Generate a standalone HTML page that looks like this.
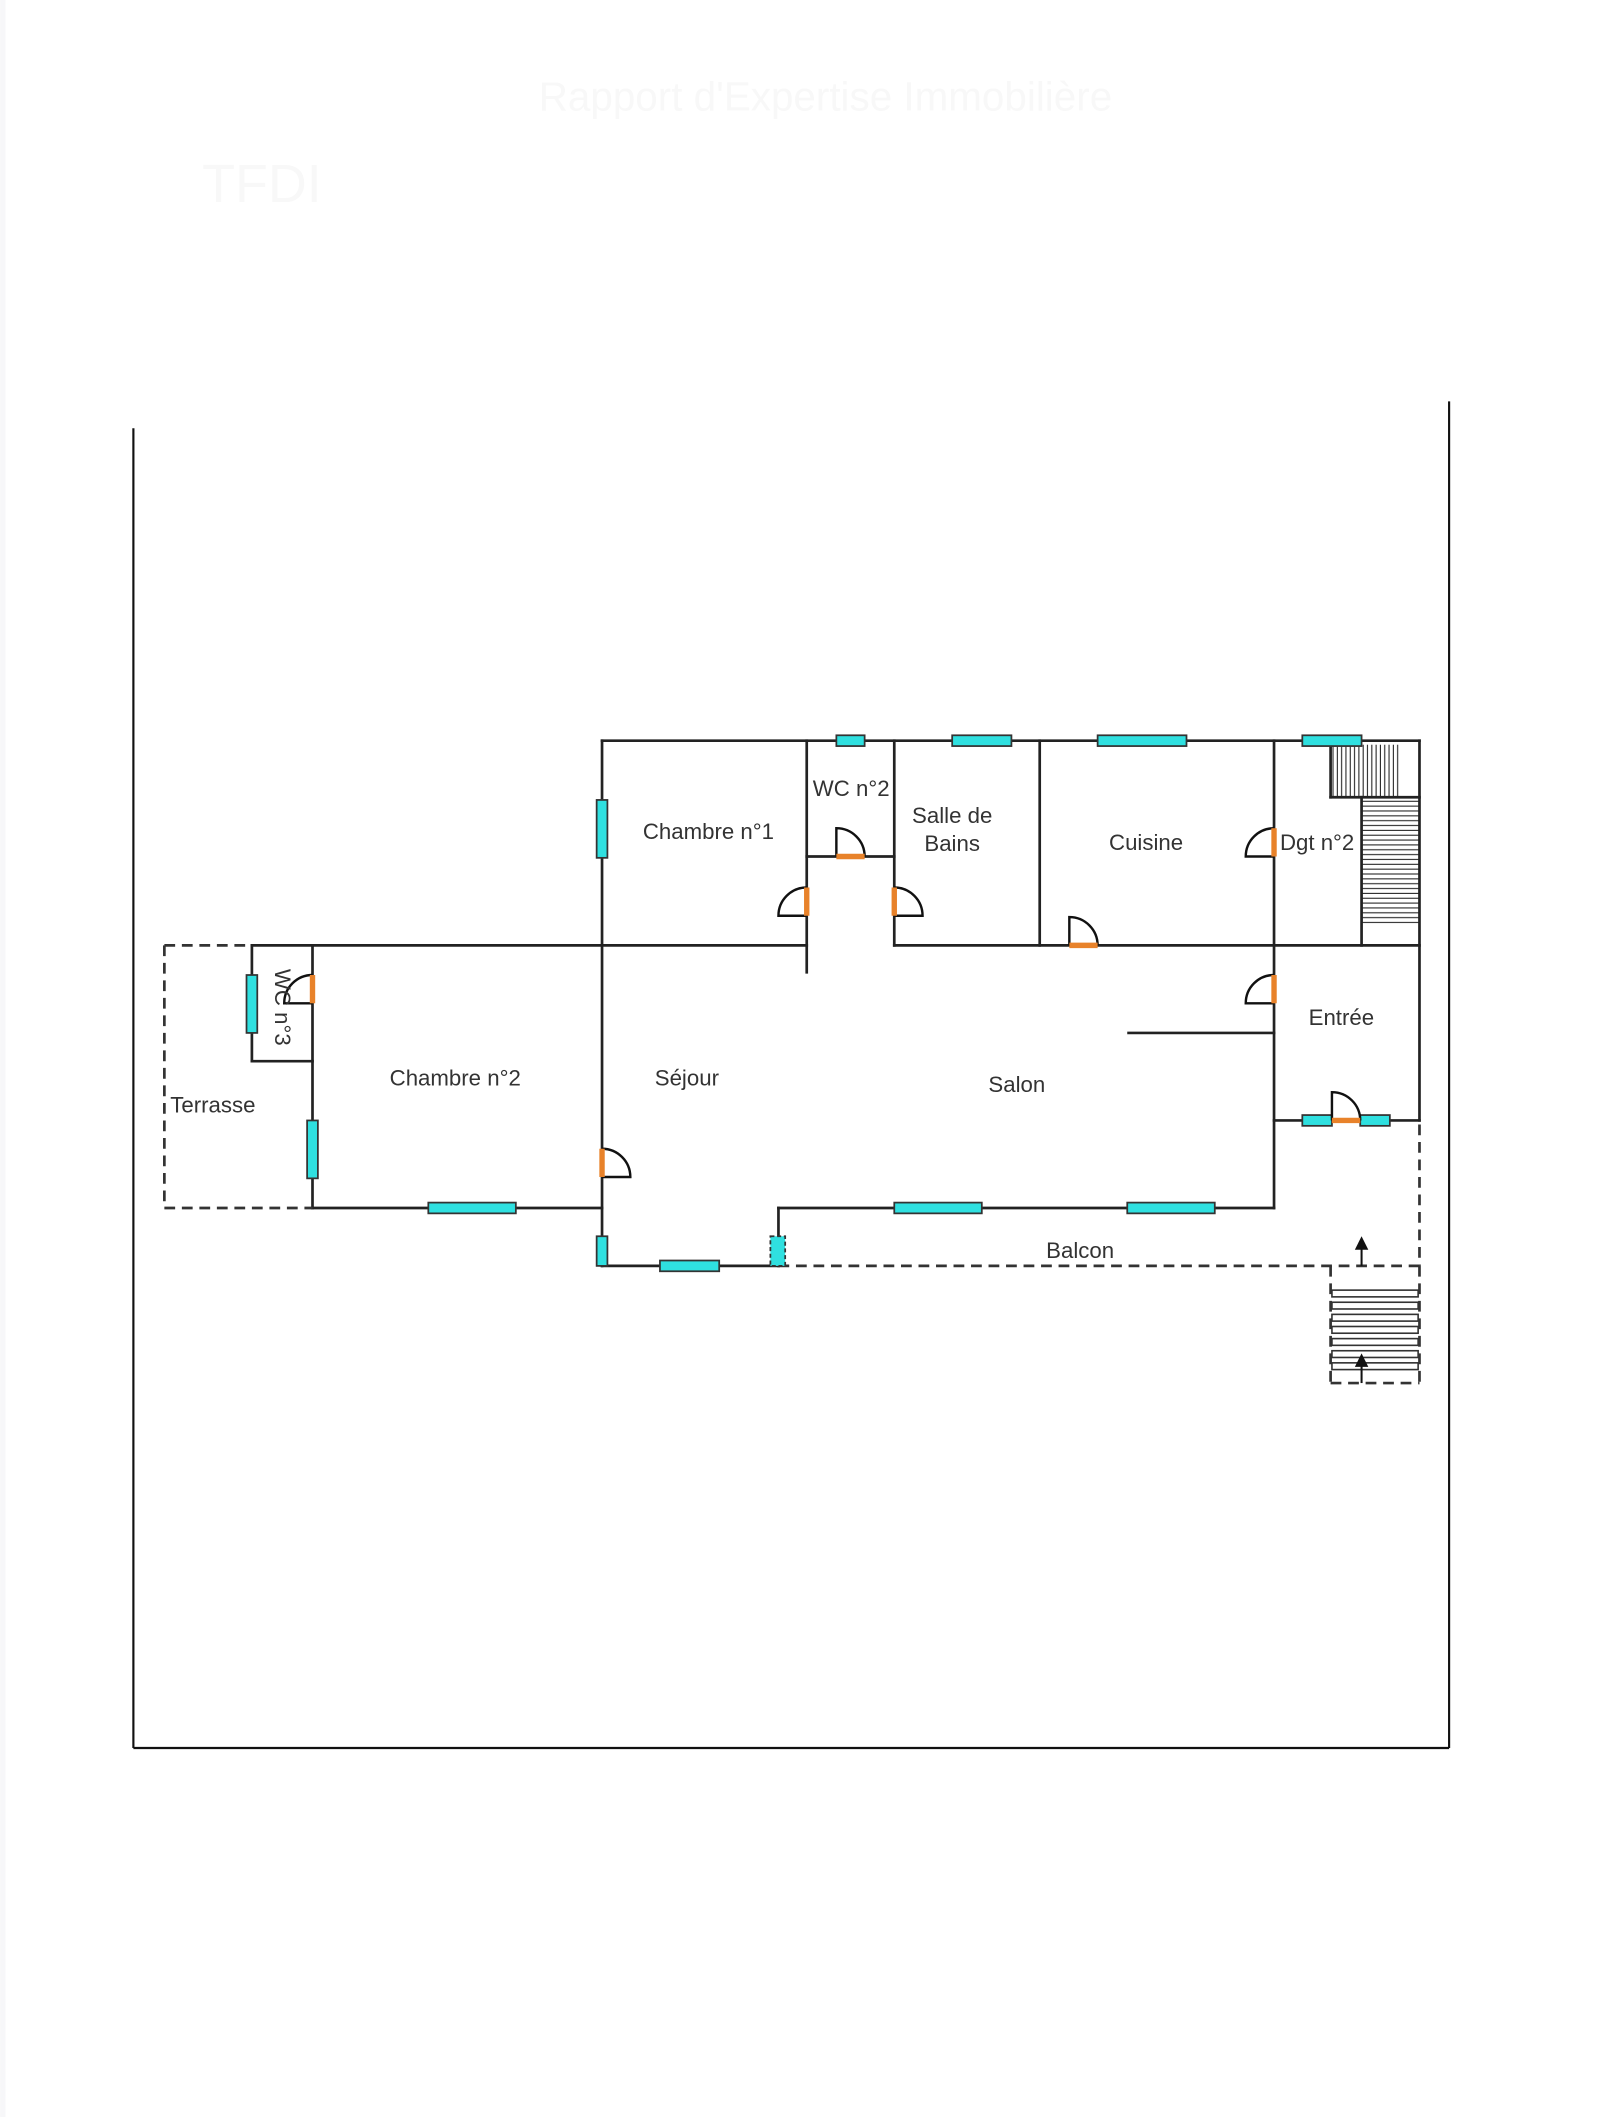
<!DOCTYPE html>
<html><head><meta charset="utf-8"><style>
html,body{margin:0;padding:0;background:#fff;}
svg{display:block;}
text{font-family:"Liberation Sans",sans-serif;font-size:16.5px;fill:#333;}
</style></head><body>
<svg width="1600" height="2117" viewBox="0 0 1188 1572" xmlns="http://www.w3.org/2000/svg">
<defs>
<pattern id="vh" width="3.2" height="10" patternUnits="userSpaceOnUse"><line x1="1" y1="0" x2="1" y2="10" stroke="#222" stroke-width="0.8"/></pattern>
<pattern id="hh" width="10" height="3.6" patternUnits="userSpaceOnUse"><line x1="0" y1="1" x2="10" y2="1" stroke="#222" stroke-width="0.8"/></pattern>
</defs>
<rect x="0" y="0" width="1188" height="1572" fill="#fff"/>
<rect x="0" y="0" width="4" height="1572" fill="#f7f7f9"/>
<text x="400" y="82" style="font-size:30px;fill:#f8f8f8">Rapport d'Expertise Immobilière</text>
<text x="150" y="150" style="font-size:40px;fill:#f8f8f8">TFDI</text>
<!-- frame -->
<g stroke="#111" stroke-width="1.6" fill="none">
<line x1="99" y1="318" x2="99" y2="1298"/>
<line x1="99" y1="1298" x2="1076" y2="1298"/>
<line x1="1076" y1="298" x2="1076" y2="1298"/>
</g>
<!-- hatches -->
<rect x="988" y="553" width="52" height="39" fill="url(#vh)"/>
<rect x="1011" y="594" width="43" height="93" fill="url(#hh)"/>
<g stroke="#222" stroke-width="2" fill="none" stroke-linecap="square">
<line x1="447" y1="550" x2="1054" y2="550"/>
<line x1="447" y1="550" x2="447" y2="940"/>
<line x1="599" y1="550" x2="599" y2="722"/>
<line x1="599" y1="636" x2="664" y2="636"/>
<line x1="664" y1="550" x2="664" y2="702"/>
<line x1="772" y1="550" x2="772" y2="702"/>
<line x1="232" y1="702" x2="599" y2="702"/>
<line x1="664" y1="702" x2="1054" y2="702"/>
<line x1="946" y1="550" x2="946" y2="897"/>
<line x1="1054" y1="550" x2="1054" y2="832"/>
<line x1="988" y1="550" x2="988" y2="592"/>
<line x1="988" y1="592" x2="1054" y2="592"/>
<line x1="1011" y1="592" x2="1011" y2="702"/>
<line x1="946" y1="832" x2="1054" y2="832"/>
<line x1="838" y1="767" x2="946" y2="767"/>
<line x1="578" y1="897" x2="946" y2="897"/>
<line x1="578" y1="897" x2="578" y2="940"/>
<line x1="447" y1="940" x2="578" y2="940"/>
<line x1="232" y1="702" x2="232" y2="897"/>
<line x1="232" y1="897" x2="447" y2="897"/>
<line x1="187" y1="702" x2="187" y2="788"/>
<line x1="187" y1="788" x2="232" y2="788"/>
<line x1="187" y1="702" x2="232" y2="702"/>
</g>
<!-- dashed -->
<g stroke="#333" stroke-width="2" fill="none" stroke-dasharray="8,5">
<line x1="578" y1="940" x2="1054" y2="940"/>
<line x1="1054" y1="835" x2="1054" y2="940"/>
<line x1="122" y1="702" x2="187" y2="702"/>
<line x1="122" y1="702" x2="122" y2="897"/>
<line x1="122" y1="897" x2="232" y2="897"/>
<line x1="988" y1="940" x2="988" y2="1027"/>
<line x1="988" y1="1027" x2="1054" y2="1027"/>
<line x1="1054" y1="940" x2="1054" y2="1027"/>
</g>
<!-- outdoor steps -->
<g stroke="#333" stroke-width="1.2" fill="none">
<rect x="989" y="958" width="64" height="5"/><rect x="989" y="967" width="64" height="5"/>
<rect x="989" y="976" width="64" height="5"/><rect x="989" y="985" width="64" height="5"/>
<rect x="989" y="994" width="64" height="5"/><rect x="989" y="1003" width="64" height="5"/>
<rect x="989" y="1012" width="64" height="5"/>
</g>
<g stroke="#111" stroke-width="1.5"><line x1="1011" y1="924" x2="1011" y2="940"/><line x1="1011" y1="1011" x2="1011" y2="1027"/></g>
<polygon points="1011,918 1006,928 1016,928" fill="#111"/>
<polygon points="1011,1005 1006,1015 1016,1015" fill="#111"/>
<!-- windows -->
<g fill="#2fe0e0" stroke="#333" stroke-width="1.3">
<rect x="621" y="546" width="21" height="8"/>
<rect x="707" y="546" width="44" height="8"/>
<rect x="815" y="546" width="66" height="8"/>
<rect x="967" y="546" width="44" height="8"/>
<rect x="443" y="594" width="8" height="43"/>
<rect x="183" y="724" width="8" height="43"/>
<rect x="228" y="832" width="8" height="43"/>
<rect x="318" y="893" width="65" height="8"/>
<rect x="443" y="918" width="8" height="22"/>
<rect x="490" y="936" width="44" height="8"/>
<rect x="664" y="893" width="65" height="8"/>
<rect x="837" y="893" width="65" height="8"/>
<rect x="967" y="828" width="22" height="8"/>
<rect x="1010" y="828" width="22" height="8"/>
<rect x="572" y="918" width="11" height="22" stroke-dasharray="3,2"/>
</g>
<!-- doors -->
<g stroke="#111" stroke-width="1.8" fill="none">
<path d="M599 659 A21 21 0 0 0 578 680 L599 680"/>
<path d="M621 636 L621 615 A21 21 0 0 1 642 636"/>
<path d="M664 659 A21 21 0 0 1 685 680 L664 680"/>
<path d="M794 702 L794 681 A21 21 0 0 1 815 702"/>
<path d="M946 615 A21 21 0 0 0 925 636 L946 636"/>
<path d="M946 724 A21 21 0 0 0 925 745 L946 745"/>
<path d="M447 853 A21 21 0 0 1 468 874 L447 874"/>
<path d="M232 724 A21 21 0 0 0 211 745 L232 745"/>
<path d="M989 832 L989 811 A21 21 0 0 1 1010 832"/>
</g>
<g stroke="#e8822a" stroke-width="4">
<line x1="599" y1="659" x2="599" y2="680"/>
<line x1="621" y1="636" x2="642" y2="636"/>
<line x1="664" y1="659" x2="664" y2="680"/>
<line x1="794" y1="702" x2="815" y2="702"/>
<line x1="946" y1="615" x2="946" y2="636"/>
<line x1="946" y1="724" x2="946" y2="745"/>
<line x1="447" y1="853" x2="447" y2="874"/>
<line x1="232" y1="724" x2="232" y2="745"/>
<line x1="989" y1="832" x2="1010" y2="832"/>
</g>
<!-- labels -->
<text x="526" y="623" text-anchor="middle">Chambre n°1</text>
<text x="632" y="591" text-anchor="middle">WC n°2</text>
<text x="707" y="611" text-anchor="middle">Salle de</text>
<text x="707" y="632" text-anchor="middle">Bains</text>
<text x="851" y="631" text-anchor="middle">Cuisine</text>
<text x="978" y="631" text-anchor="middle">Dgt n°2</text>
<text x="996" y="761" text-anchor="middle">Entrée</text>
<text x="510" y="806" text-anchor="middle">Séjour</text>
<text x="755" y="811" text-anchor="middle">Salon</text>
<text x="338" y="806" text-anchor="middle">Chambre n°2</text>
<text x="158" y="826" text-anchor="middle">Terrasse</text>
<text x="802" y="934" text-anchor="middle">Balcon</text>
<text x="0" y="0" text-anchor="middle" transform="translate(204,748) rotate(90)">WC n°3</text>
</svg>
</body></html>
